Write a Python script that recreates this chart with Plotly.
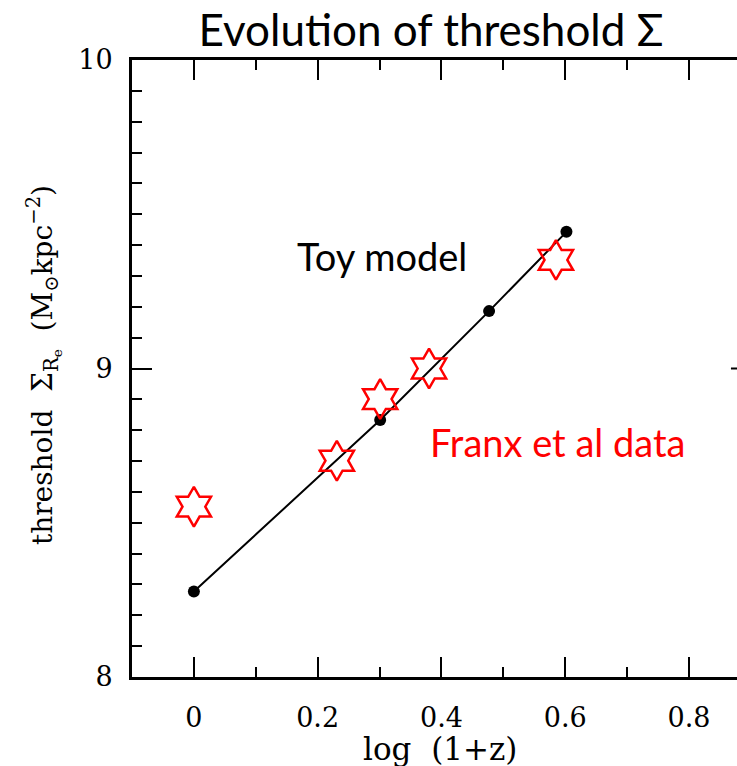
import plotly.graph_objects as go

# Toy model: threshold surface density against log(1+z)
toy_logz = [0.0, 0.301, 0.477, 0.602]
toy_sigma = [8.277, 8.833, 9.186, 9.443]

# Franx et al. measurements
franx_logz = [0.0, 0.231, 0.301, 0.380, 0.585]
franx_sigma = [8.552, 8.701, 8.901, 9.000, 9.352]

x_ticks = [0, 0.2, 0.4, 0.6, 0.8]
x_tick_labels = ["0", "0.2", "0.4", "0.6", "0.8"]
y_ticks = [8, 9, 10]
y_tick_labels = ["8", "9", "10"]

serif = "DejaVu Serif"
sans = "Lato"

fig = go.Figure()

fig.add_trace(go.Scatter(
    x=toy_logz, y=toy_sigma, mode="lines+markers",
    line=dict(color="black", width=2),
    marker=dict(color="black", size=12),
    showlegend=False, cliponaxis=False,
))

fig.add_trace(go.Scatter(
    x=franx_logz, y=franx_sigma, mode="markers",
    marker=dict(symbol="hexagram-open", size=30, color="red",
                line=dict(color="red", width=2.5)),
    showlegend=False, cliponaxis=False,
))

axis_common = dict(
    showline=True, linecolor="black", linewidth=3,
    ticks="inside", ticklen=20, tickwidth=2, tickcolor="black",
    showgrid=False, zeroline=False,
    tickfont=dict(family=serif, size=27, color="black"),
)

fig.update_xaxes(
    range=[-0.1, 0.8776], mirror="ticks",
    tickmode="array", tickvals=x_ticks, ticktext=x_tick_labels,
    minor=dict(dtick=0.1, tick0=0, ticks="inside", ticklen=10, tickwidth=2,
               tickcolor="black", showgrid=False),
    ticklabelstandoff=15,
    **axis_common,
)
fig.update_yaxes(
    range=[8, 10], mirror=False,
    tickmode="array", tickvals=y_ticks, ticktext=y_tick_labels,
    minor=dict(dtick=0.1, tick0=8, ticks="inside", ticklen=10, tickwidth=2,
               tickcolor="black", showgrid=False),
    ticklabelstandoff=11,
    **axis_common,
)

# right-hand major tick at 9, the frame continues past the page edge
fig.add_shape(type="line", xref="paper", yref="y",
              x0=0.990, x1=1.0, y0=9, y1=9,
              line=dict(color="black", width=2))

fig.add_annotation(
    text="threshold  Σ<sub>R<sub>e</sub></sub>  (M<sub>⊙</sub>kpc<sup>−2</sup>)",
    xref="paper", yref="paper", x=-0.145, y=0.506,
    xanchor="center", yanchor="middle", textangle=-90, showarrow=False,
    font=dict(family=serif, size=28, color="black"),
)
fig.add_annotation(
    text="log  (1+z)",
    xref="paper", yref="paper", x=0.509, y=-0.116,
    xanchor="center", yanchor="middle", showarrow=False,
    font=dict(family=serif, size=31, color="black"),
)
fig.add_annotation(
    text="Toy model", x=0.164, y=9.366, xanchor="left", yanchor="middle",
    showarrow=False, font=dict(family=sans, size=38, color="black"),
)
fig.add_annotation(
    text="Franx et al data", x=0.379, y=8.763, xanchor="left", yanchor="middle",
    showarrow=False, font=dict(family=sans, size=38, color="red"),
)

fig.update_layout(
    width=737, height=766, autosize=False,
    margin=dict(l=131.6, r=0, t=60, b=89, pad=0),
    paper_bgcolor="white", plot_bgcolor="white",
    title=dict(text="Evolution of threshold Σ", x=431 / 737, xref="container",
               xanchor="center", y=1 - 31 / 766, yref="container",
               yanchor="middle", font=dict(family=sans, size=44, color="black")),
)

fig.write_html("out.html")
